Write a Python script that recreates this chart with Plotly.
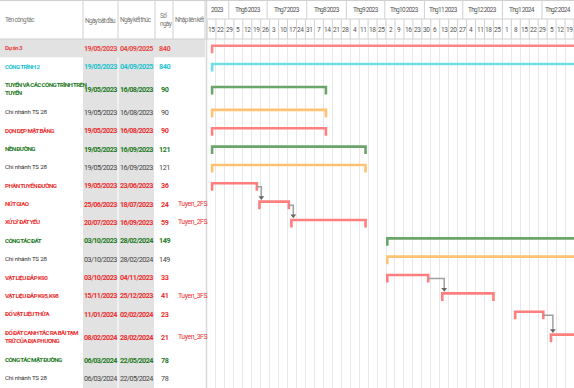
import textwrap
import pandas as pd
import plotly.graph_objects as go

# ---------------- data ----------------
TASKS = ["Dự án 3", "CÔNG TRÌNH 2", "TUYẾN VÀ CÁC CÔNG TRÌNH TRÊN TUYẾN", "Chi nhánh TS 28",
         "DỌN DẸP MẶT BẰNG", "NỀN ĐƯỜNG", "Chi nhánh TS 28", "PHÂN TUYẾN ĐƯỜNG", "NÚT GIAO",
         "XỬ LÝ ĐẤT YẾU", "CÔNG TÁC ĐẤT", "Chi nhánh TS 28", "VẬT LIỆU ĐẮP K90",
         "VẬT LIỆU ĐẮP K95, K98", "ĐỔ VẬT LIỆU THỪA",
         "ĐỔ ĐẤT CANH TÁC RA BÃI TẠM TRỮ CỦA ĐỊA PHƯƠNG", "CÔNG TÁC MẶT ĐƯỜNG", "Chi nhánh TS 28"]
START = ["2023-05-19", "2023-05-19", "2023-05-19", "2023-05-19", "2023-05-19", "2023-05-19",
         "2023-05-19", "2023-05-19", "2023-06-25", "2023-07-20", "2023-10-03", "2023-10-03",
         "2023-10-03", "2023-11-15", "2024-01-11", "2024-02-08", "2024-03-06", "2024-03-06"]
END = ["2025-09-04", "2025-09-04", "2023-08-16", "2023-08-16", "2023-08-16", "2023-09-16",
       "2023-09-16", "2023-06-23", "2023-07-18", "2023-09-16", "2024-02-28", "2024-02-28",
       "2023-11-04", "2023-12-25", "2024-02-02", "2024-02-28", "2024-05-22", "2024-05-22"]
DAYS = [840, 840, 90, 90, 90, 121, 121, 36, 24, 59, 149, 149, 33, 41, 23, 21, 78, 78]
LINKS = ["", "", "", "", "", "", "", "", "Tuyen_2FS", "Tuyen_2FS", "", "", "",
         "Tuyen_3FS", "", "Tuyen_3FS", "", ""]
KIND = ["project", "construction", "group", "branch", "task", "group", "branch", "task", "task",
        "task", "group", "branch", "task", "task", "task", "task", "group", "branch"]
DEPENDENCIES = [(7, 8), (8, 9), (12, 13), (14, 15)]

HEADERS = ["Tên công tác", "Ngày bắt đầu", "Ngày kết thúc", "Số<br>ngày", "Nhập liên kết"]
MONTH_LABELS = ["2023", "Thg6 2023", "Thg7 2023", "Thg8 2023", "Thg9 2023", "Thg10 2023",
                "Thg11 2023", "Thg12 2023", "Thg1 2024", "Thg2 2024"]
RANGE_START, RANGE_END = "2023-05-15", "2024-02-26"

# ---------------- styles ----------------
W, H = 574, 388
GANTT_LEFT = 207
HEAD_H = 39
FONT = "Roboto, Liberation Sans, sans-serif"
TEXT_COL = {"project": "#e84848", "construction": "#22c3cf", "group": "#237a23",
            "branch": "#333333", "task": "#ec2f2f"}
BAR_COL = {"project": "#ff8585", "construction": "#72e0e3", "group": "#6aa56a",
           "branch": "#ffc272", "task": "#ff7f7f"}
COLS_X = [83, 118, 155, 173, 205]


def px(x):
    return x / W


def cond(t, ls, bold=False):
    out = []
    for ln in t.split("<br>"):
        s = '<span style="letter-spacing:%spx">%s</span>' % (ls, ln)
        out.append("<b>%s</b>" % s if bold else s)
    return "<br>".join(out)


names = [textwrap.wrap(t, 28) for t in TASKS]
heights = [27.5 if len(n) > 1 else 18.35 for n in names]
tops, centers = [], []
y = HEAD_H
for h in heights:
    tops.append(y)
    centers.append(y + h / 2)
    y += h
bar_y = [c - 2.5 for c in centers]

fig = go.Figure()
shapes, annotations = [], []

# table backgrounds
shapes.append(dict(type="rect", xref="paper", yref="y", x0=px(83), x1=px(117.5), y0=HEAD_H,
                   y1=H, fillcolor="#e2e2e2", line_width=0, layer="below"))
shapes.append(dict(type="rect", xref="paper", yref="y", x0=px(118.5), x1=px(154), y0=HEAD_H,
                   y1=H, fillcolor="#e2e2e2", line_width=0, layer="below"))
for i, k in enumerate(KIND):
    if k == "project":
        shapes.append(dict(type="rect", xref="paper", yref="y", x0=0, x1=px(205), y0=tops[i],
                           y1=tops[i] + heights[i], fillcolor="#e2e2e2", line_width=0,
                           layer="below"))

# header cover over gantt gridlines
shapes.append(dict(type="rect", xref="paper", yref="y", x0=px(GANTT_LEFT), x1=1, y0=0,
                   y1=HEAD_H, fillcolor="white", line_width=0, layer="above"))

# header lines
LINE = "#d0d0d0"
for cx in COLS_X:
    shapes.append(dict(type="line", xref="paper", yref="y", x0=px(cx), x1=px(cx), y0=0,
                       y1=HEAD_H, line=dict(color=LINE, width=1), layer="above"))
shapes.append(dict(type="line", xref="paper", yref="y", x0=px(206.5), x1=px(206.5), y0=0,
                   y1=H, line=dict(color="#d8d8d8", width=1.5), layer="above"))
shapes.append(dict(type="line", xref="paper", yref="y", x0=0, x1=1, y0=HEAD_H, y1=HEAD_H,
                   line=dict(color=LINE, width=1), layer="above"))
shapes.append(dict(type="line", xref="paper", yref="y", x0=0, x1=1, y0=0.5, y1=0.5,
                   line=dict(color=LINE, width=1), layer="above"))
shapes.append(dict(type="line", xref="paper", yref="y", x0=px(GANTT_LEFT), x1=1, y0=19,
                   y1=19, line=dict(color=LINE, width=1), layer="above"))

rs, re_ = pd.Timestamp(RANGE_START), pd.Timestamp(RANGE_END)

# week separators + labels
for wk in pd.date_range(rs, re_, freq="7D"):
    shapes.append(dict(type="line", xref="x", yref="y", x0=wk, x1=wk, y0=19, y1=HEAD_H,
                       line=dict(color=LINE, width=1), layer="above"))
for wk in pd.date_range(rs, re_ - pd.Timedelta(days=7), freq="7D"):
    annotations.append(dict(xref="x", yref="y", x=wk + pd.Timedelta(hours=84), y=29.5,
                            xanchor="center", text=cond(str(wk.day), -0.3), showarrow=False,
                            font=dict(family=FONT, size=6.5, color="#555")))

# month separators + labels
mstarts = pd.date_range(rs.replace(day=1), re_, freq="MS")
for j, ms in enumerate(mstarts):
    a = max(ms, rs)
    b = min(ms + pd.offsets.MonthBegin(1), re_)
    if ms > rs:
        shapes.append(dict(type="line", xref="x", yref="y", x0=ms, x1=ms, y0=0, y1=19,
                           line=dict(color=LINE, width=1), layer="above"))
    annotations.append(dict(xref="x", yref="y", x=a + (b - a) / 2, y=10, xanchor="center",
                            text=cond(MONTH_LABELS[j], -0.7), showarrow=False,
                            font=dict(family=FONT, size=6.5, color="#555")))

# table header text
hx = [(3, "left"), (100.5, "center"), (136, "center"), (158, "left"), (189, "center")]
for (x, anc), t in zip(hx, HEADERS):
    annotations.append(dict(xref="paper", yref="y", x=px(x), y=20, text=cond(t, -0.7),
                            showarrow=False, xanchor=anc, align="left",
                            font=dict(family=FONT, size=6.5, color="#777")))


def fmt(d):
    return pd.Timestamp(d).strftime("%d/%m/%Y")


# table body
for i, k in enumerate(KIND):
    col = TEXT_COL[k]
    bold = k != "branch"
    dcol = col if bold else "#444"
    annotations.append(dict(xref="paper", yref="y", x=px(3), y=centers[i],
                            text=cond("<br>".join(names[i]), -0.6 if bold else -0.2, bold),
                            showarrow=False, xanchor="left", align="left",
                            font=dict(family=FONT, size=6.2, color=col)))
    for xc, d in ((100.5, START[i]), (136, END[i])):
        annotations.append(dict(xref="paper", yref="y", x=px(xc), y=centers[i],
                                xanchor="center", text=cond(fmt(d), -0.55, bold),
                                showarrow=False,
                                font=dict(family=FONT, size=7.2, color=dcol)))
    annotations.append(dict(xref="paper", yref="y", x=px(164.5), y=centers[i],
                            xanchor="center", text=cond(str(DAYS[i]), -0.4, bold),
                            showarrow=False, font=dict(family=FONT, size=7.2, color=dcol)))
    if LINKS[i]:
        annotations.append(dict(xref="paper", yref="y", x=px(176), y=centers[i],
                                text=cond(LINKS[i], -0.4), showarrow=False, xanchor="left",
                                font=dict(family=FONT, size=6.8, color=col)))

# gantt bars (bracket style)
for i, k in enumerate(KIND):
    s, e = pd.Timestamp(START[i]), pd.Timestamp(END[i])
    yb = bar_y[i]
    fig.add_trace(go.Scatter(x=[s, s, e, e], y=[yb + 7.5, yb, yb, yb + 7.5], mode="lines",
                             line=dict(color=BAR_COL[k], width=2.6), hoverinfo="skip",
                             showlegend=False))

# dependency connectors
for p, q in DEPENDENCIES:
    pe = pd.Timestamp(END[p])
    sx = pd.Timestamp(START[q]) + pd.Timedelta(hours=36)
    yc = bar_y[p] + 3.5
    fig.add_trace(go.Scatter(x=[pe, sx, sx], y=[yc, yc, bar_y[q] - 4.5], mode="lines",
                             line=dict(color="#a0a0a0", width=1.5), hoverinfo="skip",
                             showlegend=False))
    fig.add_trace(go.Scatter(x=[sx], y=[bar_y[q] - 4.2], mode="markers",
                             marker=dict(symbol="triangle-down", size=5, color="#666"),
                             hoverinfo="skip", showlegend=False))

fig.update_layout(
    width=W, height=H, margin=dict(l=0, r=0, t=0, b=0),
    paper_bgcolor="white", plot_bgcolor="white",
    xaxis=dict(type="date", domain=[px(GANTT_LEFT), 1], range=[RANGE_START, RANGE_END],
               showgrid=True, gridcolor="#e8e8e8", gridwidth=1.2, tick0=RANGE_START,
               dtick=7 * 86400000, showticklabels=False, ticks="", zeroline=False,
               showline=False, fixedrange=True),
    yaxis=dict(range=[H, 0], domain=[0, 1], visible=False, fixedrange=True),
    shapes=shapes, annotations=annotations, showlegend=False,
)
fig.write_html("out.html", config={"displayModeBar": False},
               post_script="document.body.style.margin='0';"
                           "document.body.style.overflow='hidden';")
